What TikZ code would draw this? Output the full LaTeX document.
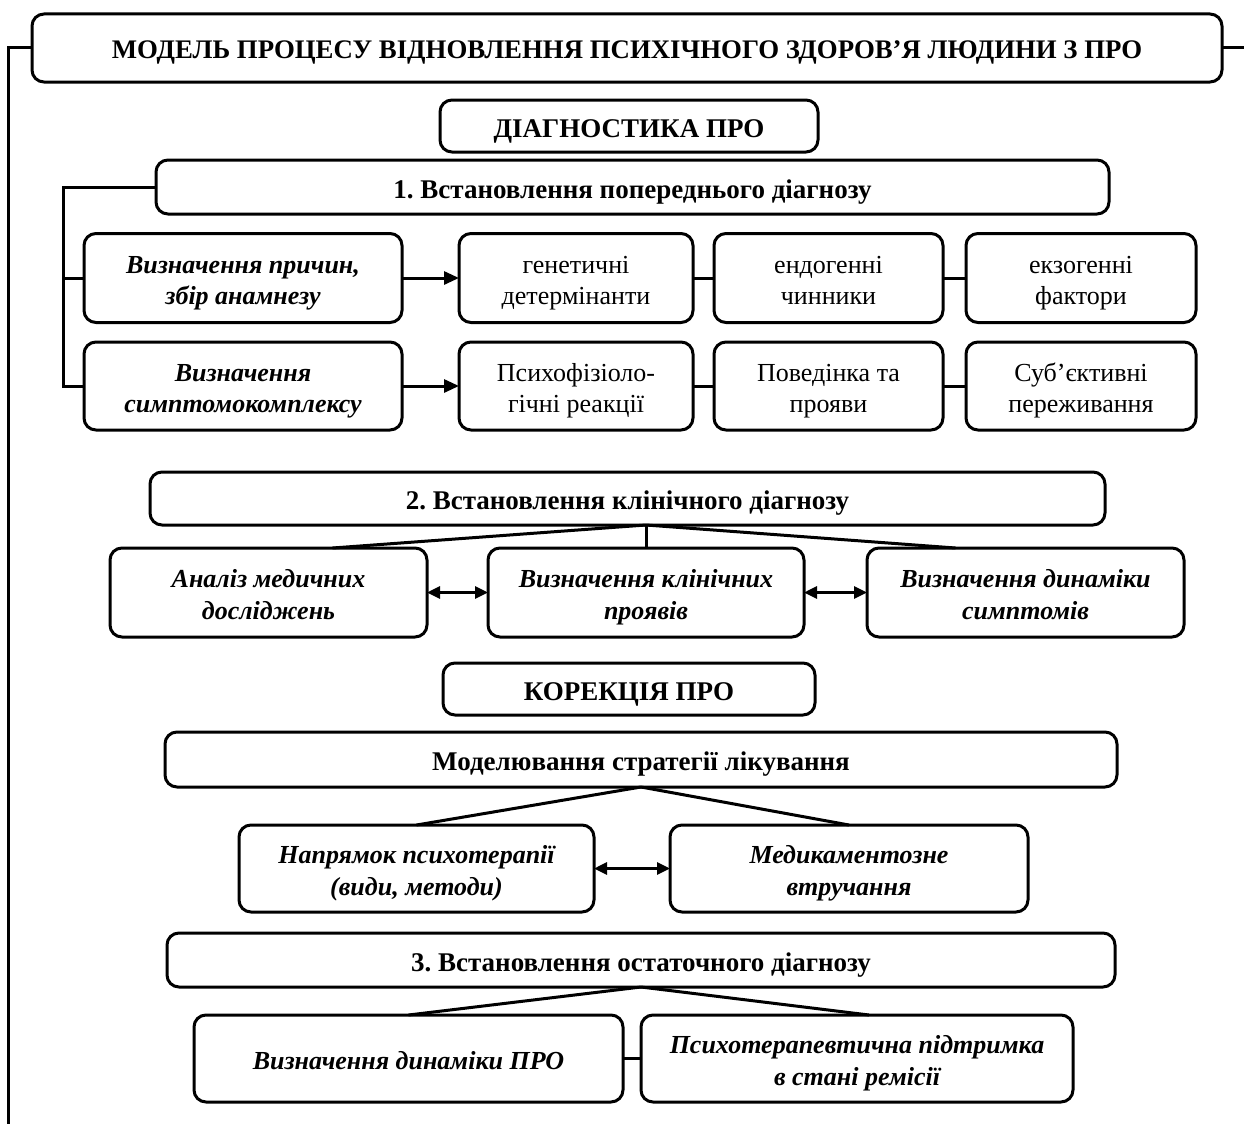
\documentclass[tikz,border=0pt]{standalone}
\usepackage{fontspec}
\setmainfont{Liberation Serif}
\usetikzlibrary{arrows.meta}
\frenchspacing
\newcommand\tx[1]{\rule{0pt}{28pt}#1\rule[-6pt]{0pt}{0pt}}
\tikzset{
  box/.style={draw, line width=3pt, rounded corners=12pt, inner sep=0pt, outer sep=0pt, align=center},
  hdr/.style={box, font=\fontsize{27}{31}\selectfont\bfseries},
  ttl/.style={box, font=\fontsize{26.8}{31}\selectfont\bfseries},
  bi/.style={box, font=\fontsize{26}{31.5}\selectfont\bfseries\itshape},
  reg/.style={box, font=\fontsize{26}{31.5}\selectfont},
  conn/.style={line width=3pt},
  arr/.style={conn, -{Triangle[length=15pt,width=13pt]}},
  darr/.style={conn, {Triangle[length=13pt,width=12pt]}-{Triangle[length=13pt,width=12pt]}},
}
\begin{document}
\begin{tikzpicture}[x=1pt,y=-1pt]
\useasboundingbox (0,0) rectangle (1244,1124);
% title
\node[ttl, minimum width=1190, minimum height=68] (title) at (627,48) {\tx{МОДЕЛЬ ПРОЦЕСУ ВІДНОВЛЕННЯ ПСИХІЧНОГО ЗДОРОВ’Я ЛЮДИНИ З ПРО}};
\coordinate (bl) at (8,1124);
\coordinate (re) at (1244,48);
\draw[conn] (title.west) -| (bl);
\draw[conn] (title.east) -- (re);
% diagnostics
\node[hdr, minimum width=378, minimum height=52] (diag) at (629,126) {\tx{ДІАГНОСТИКА ПРО}};
\node[hdr, minimum width=953, minimum height=54] (b1) at (632.5,187) {\tx{1. Встановлення попереднього діагнозу}};
\node[bi, minimum width=318, minimum height=89] (r1a) at (243,278) {\tx{Визначення причин,\\збір анамнезу}};
\node[reg, minimum width=234, minimum height=89] (r1b) at (576,278) {\tx{генетичні\\детермінанти}};
\node[reg, minimum width=229, minimum height=89] (r1c) at (828.5,278) {\tx{ендогенні\\чинники}};
\node[reg, minimum width=230, minimum height=89] (r1d) at (1081,278) {\tx{екзогенні\\фактори}};
\node[bi, minimum width=318, minimum height=88] (r2a) at (243,386) {\tx{Визначення\\симптомокомплексу}};
\node[reg, minimum width=234, minimum height=88] (r2b) at (576,386) {\tx{Психофізіоло-\\гічні реакції}};
\node[reg, minimum width=229, minimum height=88] (r2c) at (828.5,386) {\tx{Поведінка та\\прояви}};
\node[reg, minimum width=230, minimum height=88] (r2d) at (1081,386) {\tx{Суб’єктивні\\переживання}};
\coordinate (jx) at (63,0);
\draw[conn] (b1.west) -- (b1.west -| jx) |- (r2a.west);
\draw[conn] (r1a.west) -- (r1a.west -| jx);
\draw[arr] (r1a) -- (r1b);
\draw[conn] (r1b) -- (r1c);
\draw[conn] (r1c) -- (r1d);
\draw[arr] (r2a) -- (r2b);
\draw[conn] (r2b) -- (r2c);
\draw[conn] (r2c) -- (r2d);
% clinical
\node[hdr, minimum width=955, minimum height=53] (b2) at (627.5,498.5) {\tx{2. Встановлення клінічного діагнозу}};
\node[bi, minimum width=317, minimum height=89] (s2a) at (268.5,592.5) {\tx{Аналіз медичних\\досліджень}};
\node[bi, minimum width=316, minimum height=89] (s2b) at (646,592.5) {\tx{Визначення клінічних\\проявів}};
\node[bi, minimum width=317, minimum height=89] (s2c) at (1025.5,592.5) {\tx{Визначення динаміки\\симптомів}};
\draw[conn] (b2.south -| s2b.north) -- (s2b.north);
\draw[conn] (b2.south -| s2b.north) -- ([xshift=64pt]s2a.north);
\draw[conn] (b2.south -| s2b.north) -- ([xshift=-70pt]s2c.north);
\draw[darr] (s2a) -- (s2b);
\draw[darr] (s2b) -- (s2c);
% correction
\node[hdr, minimum width=372, minimum height=52] (kor) at (629,689) {\tx{КОРЕКЦІЯ ПРО}};
\node[hdr, minimum width=952, minimum height=55] (m) at (641,759.5) {\tx{Моделювання стратегії лікування}};
\node[bi, minimum width=355, minimum height=87] (k1) at (416.5,868.5) {\tx{Напрямок психотерапії\\(види, методи)}};
\node[bi, minimum width=358, minimum height=87] (k2) at (849,868.5) {\tx{Медикаментозне\\втручання}};
\draw[conn] (m.south) -- (k1.north);
\draw[conn] (m.south) -- (k2.north);
\draw[darr] (k1) -- (k2);
% final
\node[hdr, minimum width=948, minimum height=54] (b3) at (641,960) {\tx{3. Встановлення остаточного діагнозу}};
\node[bi, minimum width=429, minimum height=87] (d1) at (408.5,1058.5) {\tx{Визначення динаміки ПРО}};
\node[bi, minimum width=432, minimum height=87] (d2) at (857,1058.5) {\tx{Психотерапевтична підтримка\\в стані ремісії}};
\draw[conn] (b3.south) -- (d1.north);
\draw[conn] (b3.south) -- ([xshift=12pt]d2.north);
\draw[conn] (d1) -- (d2);
\end{tikzpicture}
\end{document}
